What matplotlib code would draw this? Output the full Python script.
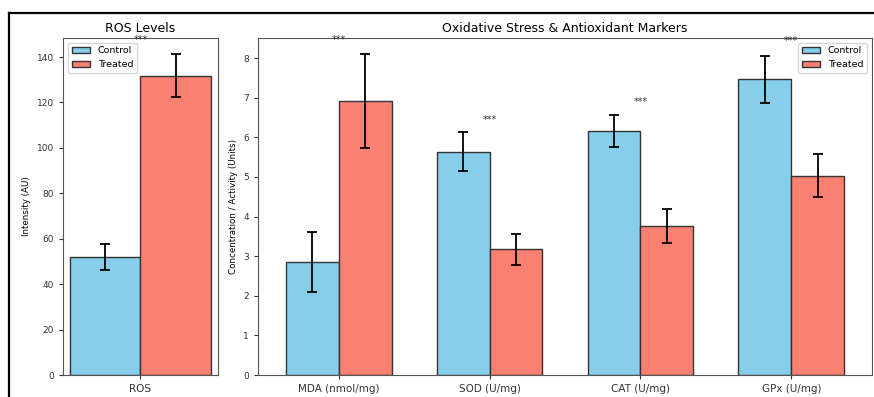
import numpy as np
import matplotlib
matplotlib.use('Agg')
import matplotlib.pyplot as plt
from matplotlib.lines import Line2D

plt.rcParams['font.family'] = ['DejaVu Sans']

# ROS panel
ros_labels = ['ROS']
ros_control = [52.1]
ros_control_sd = [5.8]
ros_treated = [131.7]
ros_treated_sd = [9.5]

# markers panel
markers = ['MDA (nmol/mg)', 'SOD (U/mg)', 'CAT (U/mg)', 'GPx (U/mg)']
ctrl_vals = [2.85, 5.64, 6.16, 7.47]
ctrl_sd = [0.75, 0.49, 0.41, 0.59]
trt_vals = [6.92, 3.17, 3.77, 5.03]
trt_sd = [1.18, 0.39, 0.43, 0.54]
sig = ['***', '***', '***', '***']

c_ctrl = '#87CEEB'
c_trt = '#FA8072'
w = 0.35

fig = plt.figure(figsize=(8.74, 3.97), dpi=100)
ax1 = fig.add_axes([0.0721, 0.0554, 0.1773, 0.8489])
ax2 = fig.add_axes([0.2952, 0.0554, 0.7025, 0.8489])

def bars(ax, labels, cv, cs, tv, ts, marks):
    x = np.arange(len(labels))
    ax.bar(x - w/2, cv, w, yerr=cs, color=c_ctrl, edgecolor='#333333', linewidth=1,
           capsize=3.5, error_kw=dict(elinewidth=1.3, capthick=1.3), label='Control')
    ax.bar(x + w/2, tv, w, yerr=ts, color=c_trt, edgecolor='#333333', linewidth=1,
           capsize=3.5, error_kw=dict(elinewidth=1.3, capthick=1.3), label='Treated')
    ax.set_xticks(x)
    ax.set_xticklabels(labels)
    for i in range(len(labels)):
        top = max(cv[i] + cs[i], tv[i] + ts[i])
        ax.text(x[i], top * 1.03, marks[i], ha='center', va='bottom', fontsize=7, color='#333333')
    ax.tick_params(axis='y', labelsize=6.5, length=3, colors='#333333')
    ax.tick_params(axis='x', labelsize=7.5, length=3, colors='#333333')
    for s in ax.spines.values():
        s.set_color('#555555')

bars(ax1, ros_labels, ros_control, ros_control_sd, ros_treated, ros_treated_sd, ['***'])
ax1.set_ylim(0, 148.4)
ax1.set_yticks(np.arange(0, 141, 20))
ax1.set_ylabel('Intensity (AU)', fontsize=6.3)
ax1.set_title('ROS Levels', fontsize=9, pad=4)
ax1.legend(loc='upper left', fontsize=6.8)

bars(ax2, markers, ctrl_vals, ctrl_sd, trt_vals, trt_sd, sig)
ax2.set_ylim(0, 8.51)
ax2.set_ylabel('Concentration / Activity (Units)', fontsize=6.3)
ax2.set_title('Oxidative Stress & Antioxidant Markers', fontsize=9, pad=4)
ax2.legend(loc='upper right', fontsize=6.8)

# black frame from the screenshot
x0 = 9 / 874
y0 = 1 - 13 / 397
fig.add_artist(Line2D([x0, 1.0], [y0, y0], color='black', linewidth=1.6, transform=fig.transFigure))
fig.add_artist(Line2D([x0, x0], [0.0, y0], color='black', linewidth=1.6, transform=fig.transFigure))

fig.savefig('out.png', dpi=100)
